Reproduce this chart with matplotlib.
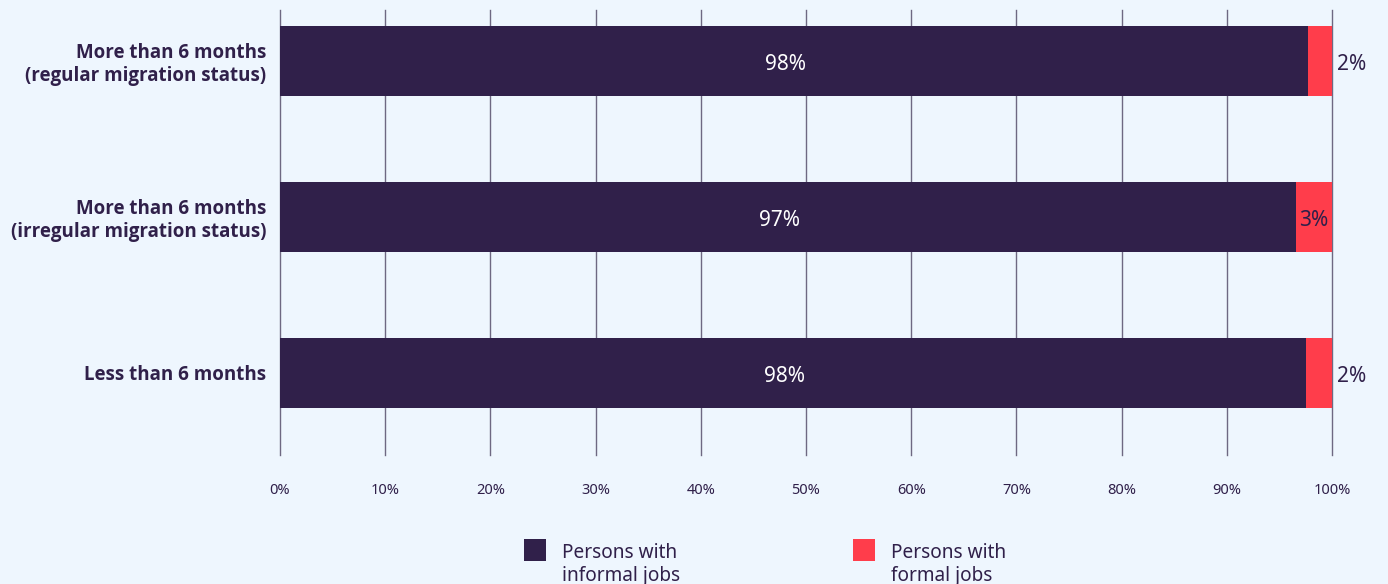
import matplotlib.pyplot as plt
from matplotlib.patches import Rectangle

# Share of employed migrants by job type and length of stay
categories = [
    "More than 6 months\n(regular migration status)",
    "More than 6 months\n(irregular migration status)",
    "Less than 6 months",
]
informal = [97.7, 96.6, 97.5]
formal = [2.3, 3.4, 2.5]
series_labels = ["Persons with\ninformal jobs", "Persons with\nformal jobs"]
x_ticks = [0, 10, 20, 30, 40, 50, 60, 70, 80, 90, 100]

BG = "#EEF6FE"
DARK = "#30204A"
RED = "#FF3D4B"
GRID = "#6E6882"

plt.rcParams["font.family"] = ["Noto Sans", "DejaVu Sans"]

fig = plt.figure(figsize=(13.88, 5.84), dpi=100, facecolor=BG)
ax = fig.add_axes([0.2017, 0.2209, 0.758, 0.762], facecolor=BG)

ypos = list(range(len(categories)))
bar_h = 0.449
ax.barh(ypos, informal, height=bar_h, color=DARK, zorder=3)
ax.barh(ypos, formal, left=informal, height=bar_h, color=RED, zorder=3)

for y, inf, frm in zip(ypos, informal, formal):
    ax.text(inf / 2 - 0.8, y + 0.02, f"{inf:.0f}%", ha="center", va="center",
            color="white", fontsize=15, zorder=4)
    if frm >= 3:
        ax.text(inf + frm / 2, y + 0.02, f"{frm:.0f}%", ha="center", va="center",
                color=DARK, fontsize=15, zorder=4)
    else:
        ax.text(inf + frm + 0.45, y + 0.02, f"{frm:.0f}%", ha="left", va="center",
                color=DARK, fontsize=15, zorder=4)

ax.set_xlim(0, 100)
ax.set_ylim(2.526, -0.327)
ax.set_xticks(x_ticks)
ax.set_xticklabels([f"{t}%" for t in x_ticks], fontsize=10.5, color=DARK)
ax.set_yticks(ypos)
ax.set_yticklabels(categories, fontsize=13.5, fontweight="bold", color=DARK,
                   family=["Open Sans", "DejaVu Sans"], linespacing=1.15)
ax.tick_params(axis="x", length=0, pad=20)
ax.tick_params(axis="y", length=0, pad=10)
ax.grid(axis="x", color=GRID, linewidth=1, zorder=0)
for line in ax.get_xgridlines():
    line.set_clip_on(False)
for side in ["top", "right", "bottom", "left"]:
    ax.spines[side].set_visible(False)

# legend: square swatch aligned with the first line of its two-line label
legend_x = [0.3775, 0.6146]
for lx, color, label in zip(legend_x, [DARK, RED], series_labels):
    fig.patches.append(Rectangle((lx, 0.0394), 0.0159, 0.0377, facecolor=color,
                                 transform=fig.transFigure, figure=fig))
    fig.text(lx + 0.0274, 0.0705, label, ha="left", va="top", fontsize=13.7,
             color=DARK, linespacing=1.2)

fig.savefig("out.png", dpi=100, facecolor=BG)
